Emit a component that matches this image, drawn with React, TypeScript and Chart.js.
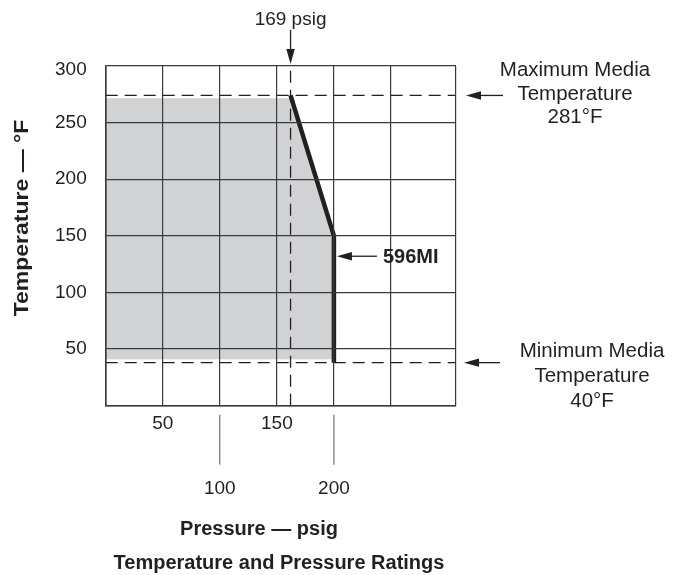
import React, { useEffect, useRef } from "react";
import { Chart, registerables } from "chart.js";

Chart.register(...registerables);

// ---- data ----
const X_MAX = 307;
const X_GRID = [0, 50, 100, 150, 200, 250, X_MAX];
const Y_GRID = [0, 50, 100, 150, 200, 250, 300];
const Y_LABELS = [50, 100, 150, 200, 250, 300];
const X_LABELS_UPPER = [50, 150];
const X_LABELS_LOWER = [100, 200];
const RATING_PRESSURE = [162, 200, 200];
const RATING_TEMP = [274, 150, 38];
const SHADE_PRESSURE = [0, 162, 200, 200];
const SHADE_TEMP = [271.5, 271.5, 150, 41];
const SHADE_BASE = 41;
const MAX_TEMP_LINE = 274;
const MIN_TEMP_LINE = 38;
const PRESSURE_LINE = 162;
const PRESSURE_LABEL = "169 psig";
const MAX_LABEL = ["Maximum Media", "Temperature", "281°F"];
const MIN_LABEL = ["Minimum Media", "Temperature", "40°F"];
const SERIES_LABEL = "596MI";
const SERIES_LABEL_TEMP = 132;
const X_TITLE = "Pressure — psig";
const Y_TITLE = "Temperature — °F";
const CHART_TITLE = "Temperature and Pressure Ratings";

const FONT = '"Liberation Sans", Arial, Helvetica, sans-serif';
const INK = "#231f20";
const GRID = "#3a3a3a";
const SHADE = "#d1d2d4";

const pts = (xs: number[], ys: number[]) => xs.map((x, i) => ({ x, y: ys[i] }));

function arrow(ctx: CanvasRenderingContext2D, x1: number, y1: number, x2: number, y2: number) {
  const ang = Math.atan2(y2 - y1, x2 - x1);
  const len = 15;
  const hw = 4.2;
  ctx.beginPath();
  ctx.moveTo(x1, y1);
  ctx.lineTo(x2 - Math.cos(ang) * (len - 2), y2 - Math.sin(ang) * (len - 2));
  ctx.lineWidth = 1.3;
  ctx.stroke();
  ctx.beginPath();
  ctx.moveTo(x2, y2);
  ctx.lineTo(x2 - Math.cos(ang) * len - Math.sin(ang) * hw, y2 - Math.sin(ang) * len + Math.cos(ang) * hw);
  ctx.lineTo(x2 - Math.cos(ang) * len + Math.sin(ang) * hw, y2 - Math.sin(ang) * len - Math.cos(ang) * hw);
  ctx.closePath();
  ctx.fill();
}

const annotations = {
  id: "annotations",
  afterDraw(chart: any) {
    const { ctx, scales } = chart;
    const x = scales.x;
    const y = scales.y;
    const left = x.left;
    const bottom = y.bottom;
    const top = y.top;
    ctx.save();
    ctx.fillStyle = INK;
    ctx.strokeStyle = INK;

    // y tick labels
    ctx.font = `19px ${FONT}`;
    ctx.textAlign = "right";
    ctx.textBaseline = "middle";
    Y_LABELS.forEach((v) => {
      const py = y.getPixelForValue(v) + (v === 300 ? 4 : 0);
      ctx.fillText(String(v), left - 19, py);
    });

    // x tick labels (staggered)
    ctx.textAlign = "center";
    ctx.textBaseline = "alphabetic";
    X_LABELS_UPPER.forEach((v) => ctx.fillText(String(v), x.getPixelForValue(v), bottom + 23));
    X_LABELS_LOWER.forEach((v) => {
      const px = x.getPixelForValue(v);
      ctx.fillText(String(v), px, bottom + 88);
      ctx.beginPath();
      ctx.lineWidth = 1;
      ctx.strokeStyle = "#555";
      ctx.moveTo(px, bottom + 9);
      ctx.lineTo(px, bottom + 59);
      ctx.stroke();
    });
    ctx.strokeStyle = INK;

    // 169 psig arrow
    const px = x.getPixelForValue(PRESSURE_LINE);
    ctx.font = `19px ${FONT}`;
    ctx.fillText(PRESSURE_LABEL, px, 25);
    arrow(ctx, px, 30, px, top - 2);

    // max temperature
    const yMax = y.getPixelForValue(MAX_TEMP_LINE);
    arrow(ctx, 503, yMax, 466, yMax);
    ctx.font = `20.5px ${FONT}`;
    [76, 99.5, 123].forEach((b, i) => ctx.fillText(MAX_LABEL[i], 575, b));

    // min temperature
    const yMin = y.getPixelForValue(MIN_TEMP_LINE);
    arrow(ctx, 500, yMin, 464, yMin);
    [357, 382, 407].forEach((b, i) => ctx.fillText(MIN_LABEL[i], 592, b));

    // series label
    const ys = y.getPixelForValue(SERIES_LABEL_TEMP);
    const xs = x.getPixelForValue(200);
    arrow(ctx, xs + 43, ys, xs + 3, ys);
    ctx.font = `bold 20px ${FONT}`;
    ctx.textAlign = "left";
    ctx.textBaseline = "middle";
    ctx.fillText(SERIES_LABEL, xs + 49, ys + 1);

    // axis titles
    ctx.textAlign = "center";
    ctx.textBaseline = "alphabetic";
    ctx.font = `bold 20px ${FONT}`;
    ctx.fillText(X_TITLE, 259, 535);
    ctx.fillText(CHART_TITLE, 279, 569);

    ctx.save();
    ctx.translate(28, 218);
    ctx.rotate(-Math.PI / 2);
    ctx.scale(1.15, 1);
    ctx.fillText(Y_TITLE, 0, 0);
    ctx.restore();

    ctx.restore();
  },
};

export default function App() {
  const ref = useRef<HTMLCanvasElement | null>(null);

  useEffect(() => {
    if (!ref.current) return;
    const dashed = { borderColor: INK, borderWidth: 1.3, borderDash: [12, 7], pointRadius: 0, showLine: true, fill: false, order: 1 };
    const chart = new Chart(ref.current, {
      type: "scatter",
      data: {
        datasets: [
          {
            data: pts(SHADE_PRESSURE, SHADE_TEMP),
            showLine: true,
            borderWidth: 0,
            borderColor: "rgba(0,0,0,0)",
            backgroundColor: SHADE,
            pointRadius: 0,
            fill: { value: SHADE_BASE },
            order: 3,
          } as any,
          { ...dashed, data: pts([0, X_MAX], [MAX_TEMP_LINE, MAX_TEMP_LINE]) } as any,
          { ...dashed, data: pts([0, X_MAX], [MIN_TEMP_LINE, MIN_TEMP_LINE]) } as any,
          { ...dashed, data: pts([PRESSURE_LINE, PRESSURE_LINE], [0, 300]) } as any,
          {
            data: pts(RATING_PRESSURE, RATING_TEMP),
            showLine: true,
            borderColor: INK,
            borderWidth: 4.5,
            borderJoinStyle: "miter",
            borderCapStyle: "butt",
            pointRadius: 0,
            fill: false,
            order: 0,
          } as any,
        ],
      },
      options: {
        animation: false,
        responsive: true,
        maintainAspectRatio: false,
        layout: { padding: { left: 105.7, top: 66, right: 230, bottom: 169.3 } },
        plugins: { legend: { display: false }, tooltip: { enabled: false } },
        scales: {
          x: {
            type: "linear",
            min: 0,
            max: X_MAX,
            afterBuildTicks: (s: any) => {
              s.ticks = X_GRID.map((v) => ({ value: v }));
            },
            ticks: { display: false },
            grid: { color: GRID, lineWidth: 1.2, drawTicks: false, z: 1 },
            border: { display: true, color: GRID, width: 1.6, z: 1 },
          } as any,
          y: {
            type: "linear",
            min: 0,
            max: 300,
            afterBuildTicks: (s: any) => {
              s.ticks = Y_GRID.map((v) => ({ value: v }));
            },
            ticks: { display: false },
            grid: { color: GRID, lineWidth: 1.2, drawTicks: false, z: 1 },
            border: { display: true, color: GRID, width: 1.6, z: 1 },
          } as any,
        },
      },
      plugins: [annotations],
    });
    return () => chart.destroy();
  }, []);

  return (
    <div style={{ position: "absolute", left: 0, top: 0, width: 686, height: 575, background: "#fff" }}>
      <canvas ref={ref} />
    </div>
  );
}
